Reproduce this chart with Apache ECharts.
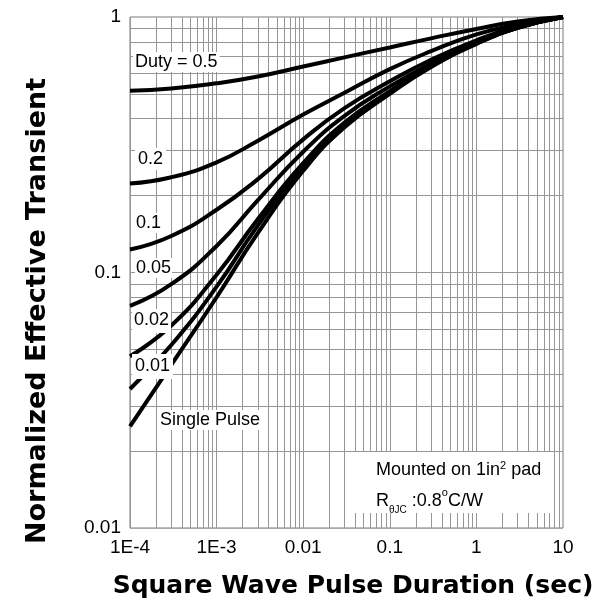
<!DOCTYPE html>
<html>
<head>
<meta charset="utf-8">
<title>Transient Thermal Response</title>
<script src="https://cdn.jsdelivr.net/npm/echarts/dist/echarts.min.js"></script>
<style>
  html, body { margin: 0; padding: 0; background: #fff; }
  #chart { width: 596px; height: 607px; }
</style>
</head>
<body>
<div id="chart"></div>
<script>
// pulse duration (sec)
var pulseTime = [1e-4, 3e-4, 1e-3, 3e-3, 1e-2, 3e-2, 0.1, 0.3, 1, 3, 10];

// normalized effective transient thermal impedance, one array per duty cycle
var duty05 = [0.515, 0.525, 0.55, 0.585, 0.64, 0.695, 0.76, 0.825, 0.898, 0.96, 1.0];
var duty02 = [0.223, 0.236, 0.27, 0.328, 0.415, 0.505, 0.625, 0.735, 0.855, 0.935, 1.0];
var duty01 = [0.123, 0.139, 0.176, 0.232, 0.332, 0.44, 0.56, 0.68, 0.81, 0.918, 1.0];
var duty005 = [0.074, 0.09, 0.127, 0.192, 0.297, 0.41, 0.535, 0.658, 0.795, 0.911, 1.0];
var duty002 = [0.047, 0.062, 0.098, 0.162, 0.268, 0.386, 0.513, 0.646, 0.789, 0.908, 1.0];
var duty001 = [0.035, 0.052, 0.088, 0.153, 0.26, 0.378, 0.507, 0.642, 0.787, 0.907, 1.0];
var singlePulse = [0.025, 0.0435, 0.08, 0.143, 0.25, 0.37, 0.5, 0.637, 0.785, 0.906, 1.0];

// tick labels
var xTickLabels = { '0.0001': '1E-4', '0.001': '1E-3', '0.01': '0.01', '0.1': '0.1', '1': '1', '10': '10' };
var yTickLabels = { '0.01': '0.01', '0.1': '0.1', '1': '1' };

// grid lines at 1..9 of every decade
var xGridValues = [];
var yGridValues = [];
[1e-4, 1e-3, 1e-2, 0.1, 1].forEach(function (d) {
  for (var k = 1; k <= 9; k++) xGridValues.push(+(d * k).toPrecision(3));
});
[0.01, 0.1].forEach(function (d) {
  for (var k = 1; k <= 9; k++) yGridValues.push(+(d * k).toPrecision(3));
});

function pairs(ys) {
  return pulseTime.map(function (t, i) { return [t, ys[i]]; });
}

function curve(name, ys) {
  return {
    name: name,
    type: 'line',
    data: pairs(ys),
    smooth: 0.5,
    showSymbol: false,
    symbol: 'none',
    lineStyle: { color: '#000', width: 4 },
    z: 5
  };
}

// vertical + horizontal grid lines as one lines series
var gridLines = xGridValues.map(function (v) { return { coords: [[v, 0.01], [v, 1]] }; })
  .concat(yGridValues.map(function (v) { return { coords: [[1e-4, v], [10, v]] }; }));

var chart = echarts.init(document.getElementById('chart'), null, { renderer: 'canvas' });

var labelFont = '18px "Liberation Sans", Arial, sans-serif';

var option = {
  animation: false,
  backgroundColor: '#fff',
  grid: { left: 130, top: 17, right: 33, bottom: 79, show: true, borderColor: '#7a7a7a', borderWidth: 1 },
  xAxis: {
    type: 'log',
    logBase: 10,
    min: 1e-4,
    max: 10,
    axisLine: { show: false },
    axisTick: { show: false },
    splitLine: { show: false },
    axisLabel: {
      color: '#000',
      fontSize: 19,
      fontFamily: 'Liberation Sans, Arial, sans-serif',
      margin: 10,
      formatter: function (v) { return xTickLabels[String(+v.toPrecision(3))] || ''; }
    }
  },
  yAxis: {
    type: 'log',
    logBase: 10,
    min: 0.01,
    max: 1,
    axisLine: { show: false },
    axisTick: { show: false },
    splitLine: { show: false },
    axisLabel: {
      color: '#000',
      fontSize: 19,
      fontFamily: 'Liberation Sans, Arial, sans-serif',
      margin: 9,
      formatter: function (v) { return yTickLabels[String(+v.toPrecision(3))] || ''; }
    }
  },
  series: [
    {
      type: 'lines',
      coordinateSystem: 'cartesian2d',
      silent: true,
      z: 1,
      lineStyle: { color: '#969696', width: 1, opacity: 1 },
      data: gridLines
    },
    curve('0.5', duty05),
    curve('0.2', duty02),
    curve('0.1', duty01),
    curve('0.05', duty005),
    curve('0.02', duty002),
    curve('0.01', duty001),
    curve('Single Pulse', singlePulse)
  ],
  graphic: [
    { type: 'text', left: 133, top: 52, z: 20, style: { text: 'Duty = 0.5', font: labelFont, fill: '#000', backgroundColor: '#fff', padding: [1, 2, 1, 2] } },
    { type: 'text', left: 135, top: 148, z: 20, style: { text: '0.2', font: labelFont, fill: '#000', backgroundColor: '#fff', padding: [2, 3, 2, 3] } },
    { type: 'text', left: 135, top: 213, z: 20, style: { text: '0.1', font: labelFont, fill: '#000', backgroundColor: '#fff', padding: [1, 1, 1, 1] } },
    { type: 'text', left: 135, top: 258, z: 20, style: { text: '0.05', font: labelFont, fill: '#000', backgroundColor: '#fff', padding: [1, 1, 1, 1] } },
    { type: 'text', left: 132, top: 309, z: 20, style: { text: '0.02', font: labelFont, fill: '#000', backgroundColor: '#fff', padding: [2, 2, 4, 2] } },
    { type: 'text', left: 132, top: 354, z: 20, style: { text: '0.01', font: labelFont, fill: '#000', backgroundColor: '#fff', padding: [3, 3, 4, 3] } },
    { type: 'text', left: 158, top: 410, z: 20, style: { text: 'Single Pulse', font: labelFont, fill: '#000', backgroundColor: '#fff', padding: [1, 2, 1, 2] } },
    // mounting note
    { type: 'rect', left: 352, top: 452, z: 15, shape: { width: 198, height: 61 }, style: { fill: '#fff' } },
    {
      type: 'text', left: 376, top: 460, z: 20,
      style: {
        text: 'Mounted on 1in{sup|2} pad',
        font: '18px "Liberation Sans", Arial, sans-serif',
        fill: '#000',
        rich: { sup: { fontSize: 11, verticalAlign: 'top', lineHeight: 20 } }
      }
    },
    {
      type: 'text', left: 376, top: 487, z: 20,
      style: {
        text: 'R{sub|\u03b8JC} :0.8{sup|o}C/W',
        font: '18px "Liberation Sans", Arial, sans-serif',
        fill: '#000',
        rich: {
          sub: { fontSize: 10, verticalAlign: 'bottom', lineHeight: 28 },
          sup: { fontSize: 11, verticalAlign: 'top', lineHeight: 20 }
        }
      }
    },
    // axis titles
    {
      type: 'text', x: 353, y: 586, z: 20,
      style: { text: 'Square Wave Pulse Duration (sec)', font: 'bold 25px "DejaVu Sans", sans-serif', fill: '#000', align: 'center', verticalAlign: 'middle' }
    },
    {
      type: 'text', x: 38, y: 311, rotation: Math.PI / 2, z: 20,
      style: { text: 'Normalized Effective Transient', font: 'bold 27px "DejaVu Sans", sans-serif', fill: '#000', align: 'center', verticalAlign: 'middle' }
    }
  ]
};

chart.setOption(option);
</script>
</body>
</html>
